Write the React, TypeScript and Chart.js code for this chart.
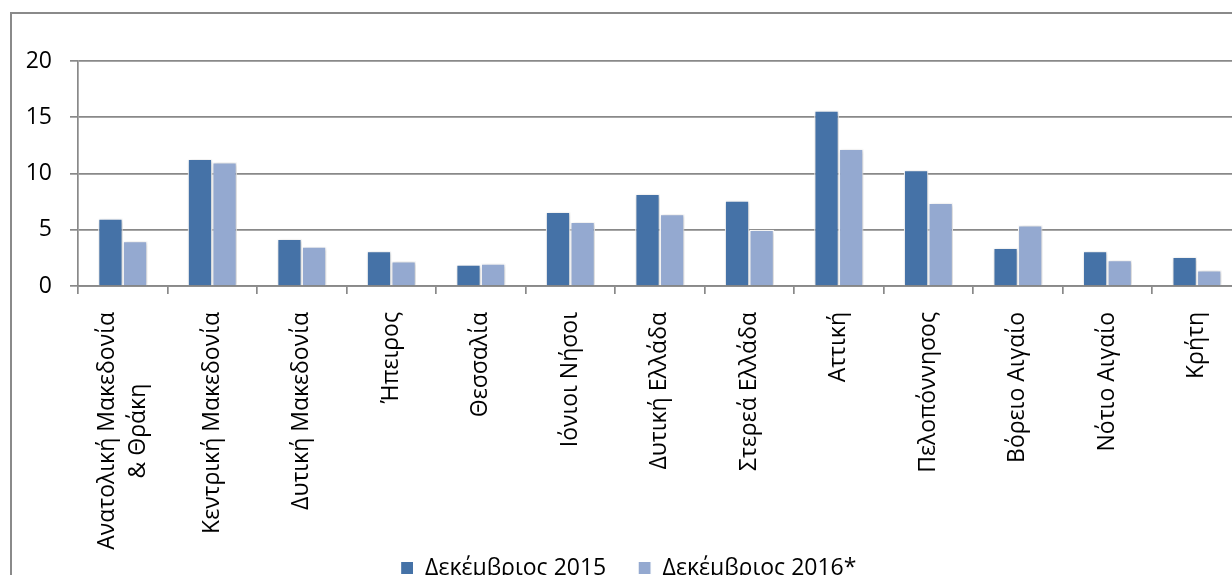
import React, { useEffect, useRef } from "react";
import { Chart, registerables } from "chart.js";
Chart.register(...registerables);

const categories: (string | string[])[] = [
  ["Ανατολική Μακεδονία", "& Θράκη"],
  "Κεντρική Μακεδονία",
  "Δυτική Μακεδονία",
  "Ήπειρος",
  "Θεσσαλία",
  "Ιόνιοι Νήσοι",
  "Δυτική Ελλάδα",
  "Στερεά Ελλάδα",
  "Αττική",
  "Πελοπόννησος",
  "Βόρειο Αιγαίο",
  "Νότιο Αιγαίο",
  "Κρήτη",
];
const dec2015 = [6.0, 11.3, 4.2, 3.1, 1.9, 6.6, 8.2, 7.6, 15.6, 10.3, 3.4, 3.1, 2.6];
const dec2016 = [4.0, 11.0, 3.5, 2.2, 2.0, 5.7, 6.4, 5.0, 12.2, 7.4, 5.4, 2.3, 1.4];
const seriesNames = ["Δεκέμβριος 2015", "Δεκέμβριος 2016*"];
const yTicks = [0, 5, 10, 15, 20];

const FONT = "'Open Sans', 'Noto Sans', sans-serif";
const LABEL_SIZE = 23;
const LINE_H = 1.35;
const GRID = "#898989";
const LEGEND_GAP_SPACES = 5;

function centerLines(lines: string[], size: number): string[] {
  const ctx = document.createElement("canvas").getContext("2d");
  if (!ctx) return lines;
  ctx.font = `${size}px ${FONT}`;
  const widths = lines.map((l) => ctx.measureText(l).width);
  const max = Math.max(...widths);
  const sp = ctx.measureText(" ").width || 5;
  return lines.map((l, i) => l + " ".repeat(Math.round((max - widths[i]) / 2 / sp)));
}

const shadowPlugin = {
  id: "barShadow",
  beforeDatasetsDraw(chart: any) {
    const c = chart.ctx;
    c.save();
    c.shadowColor = "rgba(0,0,0,0.22)";
    c.shadowBlur = 4;
    c.shadowOffsetX = 1;
    c.shadowOffsetY = 1;
  },
  afterDatasetsDraw(chart: any) {
    chart.ctx.restore();
  },
};

// Centre multi-line rotated category labels on their tick (Chart.js puts the first line on it).
const centerMultiLinePlugin = {
  id: "centerMultiLine",
  beforeDraw(chart: any) {
    const scale = chart.scales.x;
    if (!scale || typeof scale.getLabelItems !== "function") return;
    const items = scale.getLabelItems();
    const lh = LABEL_SIZE * LINE_H;
    items.forEach((it: any) => {
      if (it && Array.isArray(it.label) && it.label.length > 1 && !it._centred && it.options?.translation) {
        it.options.translation[0] -= ((it.label.length - 1) * lh) / 2;
        it._centred = true;
      }
    });
  },
};

export default function App() {
  const ref = useRef<HTMLCanvasElement | null>(null);
  useEffect(() => {
    if (!ref.current) return;
    const chart = new Chart(ref.current, {
      type: "bar",
      data: {
        labels: categories.map((c) => (Array.isArray(c) ? c.join(" ") : c)),
        datasets: [
          {
            label: seriesNames[0],
            data: dec2015,
            backgroundColor: "#4572A7",
            borderColor: "#ffffff",
            borderWidth: 1.2,
            categoryPercentage: 0.55,
            barPercentage: 1,
          },
          {
            label: seriesNames[1],
            data: dec2016,
            backgroundColor: "#94A9D0",
            borderColor: "#ffffff",
            borderWidth: 1.2,
            categoryPercentage: 0.55,
            barPercentage: 1,
          },
        ],
      },
      options: {
        responsive: false,
        animation: false,
        devicePixelRatio: 1,
        layout: { padding: { top: 47, left: 0, right: 1, bottom: 24.5 } },
        plugins: {
          tooltip: { enabled: false },
          legend: {
            position: "bottom",
            labels: {
              boxWidth: 13,
              boxHeight: 13,
              padding: 2,
              color: "#000",
              font: { family: FONT, size: LABEL_SIZE },
              generateLabels: (ch: any) =>
                Chart.defaults.plugins.legend.labels
                  .generateLabels(ch)
                  .map((l: any, i: number, arr: any[]) =>
                    i < arr.length - 1 ? { ...l, text: l.text + " ".repeat(LEGEND_GAP_SPACES) } : l
                  ),
            },
          },
        },
        scales: {
          x: {
            grid: {
              offset: true,
              drawOnChartArea: false,
              drawTicks: true,
              tickLength: 8,
              color: GRID,
              lineWidth: 1.7,
            },
            border: { color: GRID, width: 1.7 },
            ticks: {
              autoSkip: false,
              maxRotation: 90,
              minRotation: 90,
              padding: 18,
              color: "#000",
              font: { family: FONT, size: LABEL_SIZE, lineHeight: LINE_H },
              callback: (_v: any, i: number) => {
                const c = categories[i];
                return Array.isArray(c) ? centerLines(c, LABEL_SIZE) : c;
              },
            },
            afterFit: (s: any) => {
              s.height = 268.5;
            },
          },
          y: {
            min: yTicks[0],
            max: yTicks[yTicks.length - 1],
            afterBuildTicks: (s: any) => {
              s.ticks = yTicks.map((v) => ({ value: v }));
            },
            grid: {
              color: GRID,
              lineWidth: 1.7,
              tickLength: 8,
            },
            border: { color: GRID, width: 1.7 },
            ticks: {
              padding: 18,
              color: "#000",
              font: { family: FONT, size: 23 },
            },
            afterFit: (s: any) => {
              s.width = 66;
            },
          },
        },
      },
      plugins: [shadowPlugin, centerMultiLinePlugin],
    });
    return () => chart.destroy();
  }, []);

  return (
    <div
      style={{
        position: "fixed",
        left: 0,
        top: 0,
        width: 1232,
        height: 575,
        overflow: "hidden",
        background: "#fff",
      }}
    >
      <div
        style={{
          position: "absolute",
          left: 10,
          top: 12,
          border: "2px solid #8a8a8a",
          width: 1234,
          height: 600,
        }}
      >
        <canvas ref={ref} width={1234} height={600} style={{ display: "block" }} />
      </div>
    </div>
  );
}
